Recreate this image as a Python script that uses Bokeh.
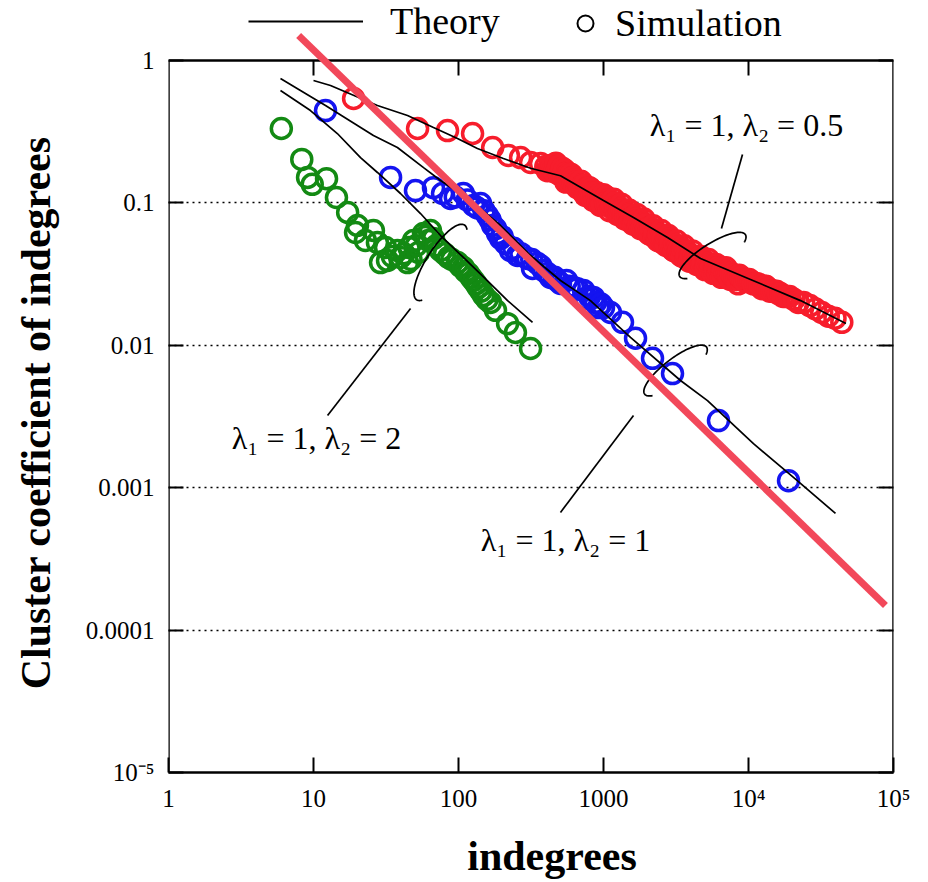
import numpy as np
from bokeh.plotting import figure
from bokeh.models import (ColumnDataSource, FixedTicker, CustomJSTickFormatter,
                          LogAxis, Legend, LegendItem, Range1d)
from bokeh.core.properties import value
from bokeh.embed import file_html
from bokeh.resources import INLINE

SERIF = "Liberation Serif"

# ---------------- ticks ----------------
x_ticks = [1, 10, 100, 1000, 1e4, 1e5]
x_tick_labels = ["1", "10", "100", "1000", "10⁴", "10⁵"]
y_ticks = [1e-5, 1e-4, 1e-3, 1e-2, 1e-1, 1]
y_tick_labels = ["10⁻⁵", "0.0001", "0.001", "0.01", "0.1", "1"]
grid_y = [1e-4, 1e-3, 1e-2, 1e-1]

# ---------------- simulation data ----------------
green_x = [6.0, 8.3, 9.1, 9.8, 12.3, 14.4, 17.2, 19.5, 20.1, 22.8, 25.9, 27.6, 29.0, 31.4,
           32.4, 35.0, 37.9, 39.8, 42.0, 44.5, 45.5, 47.0, 49.0, 51.0, 53.0, 57.4, 59.0,
           62.1, 64.1, 67.2, 70.0, 75.2, 80.0, 85.3, 90.0, 98.4, 103, 108, 112, 117, 122,
           127, 132, 137, 143, 149, 157, 166, 180, 218, 247, 314]
green_y = [0.333, 0.202, 0.151, 0.135, 0.148, 0.109, 0.0857, 0.0619, 0.0694, 0.0544, 0.064,
           0.0527, 0.0381, 0.0486, 0.0394, 0.042, 0.0463, 0.0414, 0.044, 0.0381, 0.0486,
           0.040, 0.0544, 0.050, 0.0449, 0.061, 0.058, 0.0544, 0.064, 0.0562, 0.050, 0.0463,
           0.044, 0.0414, 0.040, 0.0381, 0.036, 0.0352, 0.033, 0.0319, 0.030, 0.0285, 0.027,
           0.0255, 0.024, 0.0224, 0.021, 0.020, 0.0176, 0.0142, 0.0123, 0.0095]

blue_x = [12.1, 34.0, 50.5, 67.2, 77.6, 88.1, 95, 108, 115, 127, 135, 142, 150, 158, 165,
          172, 180, 186, 195, 200, 211, 228, 240, 255, 270, 299, 320, 324, 351, 370, 386,
          411, 431, 460, 480, 505, 556, 580, 621, 660, 728, 751, 800, 853, 880, 924, 960,
          1000, 1117, 1352, 1663, 2178, 2992, 6209, 18880]
blue_y = [0.445, 0.151, 0.122, 0.128, 0.1164, 0.1074, 0.110, 0.1164, 0.105, 0.0959, 0.092,
          0.099, 0.088, 0.0816, 0.076, 0.0694, 0.066, 0.061, 0.0562, 0.058, 0.0519, 0.0463,
          0.048, 0.0427, 0.044, 0.0407, 0.040, 0.0346, 0.0375, 0.036, 0.0335, 0.0319,
          0.0299, 0.030, 0.0285, 0.0272, 0.0285, 0.026, 0.0255, 0.025, 0.0243, 0.0213,
          0.022, 0.0217, 0.020, 0.0184, 0.0195, 0.0184, 0.017, 0.0145, 0.0112, 0.0081,
          0.00633, 0.00296, 0.00112]

red_x = [18.9, 52.2, 84.0, 125, 172, 221, 268, 314, 368,
         400, 410, 420, 430, 440, 450, 460, 470, 480, 490, 500, 510, 520, 530, 540, 550, 560,
         570, 580, 590, 600, 610, 620, 630, 640, 650, 660, 670, 680, 690, 700, 710, 720, 730,
         740, 750, 760, 770, 780, 790, 800, 810, 820, 830, 850, 860, 870, 880, 900, 910, 920,
         930, 950, 960, 970, 980, 1000, 1020, 1040, 1050, 1080, 1100, 1120, 1130, 1150, 1180,
         1200, 1210, 1220, 1250, 1270, 1280, 1300, 1330, 1350, 1360, 1380, 1400, 1430, 1440,
         1470, 1500, 1520, 1530, 1560, 1600, 1620, 1630, 1660, 1700, 1720, 1740, 1770, 1800,
         1830, 1850, 1880, 1900, 1950, 1970, 2000, 2050, 2080, 2100, 2130, 2200, 2220, 2240,
         2270, 2350, 2380, 2400, 2420, 2500, 2540, 2560, 2580, 2650, 2700, 2720, 2750, 2800,
         2880, 2900, 2930, 3000, 3050, 3080, 3120, 3200, 3250, 3280, 3330, 3400, 3470, 3500,
         3550, 3600, 3700, 3720, 3780, 3900, 3950, 3980, 4030, 4100, 4200, 4220, 4300, 4400,
         4480, 4500, 4580, 4700, 4780, 4800, 4880, 5000, 5100, 5120, 5200, 5300, 5450, 5480,
         5550, 5700, 5800, 5850, 5920, 6000, 6150, 6200, 6300, 6500, 6600, 6650, 6700, 6900,
         7000, 7150, 7300, 7500, 7600, 7800, 8100, 8300, 8500, 8650, 8900, 9200, 9500, 9800,
         10100, 10500, 10800, 11200, 11600, 12000, 12400, 12800, 13200, 13700, 14100, 14600,
         15100, 15600, 16100, 16700, 17300, 17900, 18500, 19200, 20600, 22000, 24000, 26500,
         29000, 32000, 35500, 39500, 44000]
red_y = [0.541, 0.333, 0.322, 0.307, 0.245, 0.215, 0.208, 0.192, 0.189,
         0.180, 0.168, 0.172, 0.183, 0.178, 0.170, 0.165, 0.190, 0.170, 0.180, 0.158, 0.165,
         0.175, 0.160, 0.170, 0.140, 0.150, 0.142, 0.160, 0.146, 0.158, 0.150, 0.138, 0.145,
         0.133, 0.140, 0.128, 0.137, 0.133, 0.128, 0.142, 0.131, 0.120, 0.125, 0.133, 0.113,
         0.117, 0.121, 0.127, 0.114, 0.128, 0.118, 0.124, 0.108, 0.104, 0.112, 0.118, 0.106,
         0.118, 0.110, 0.101, 0.113, 0.096, 0.104, 0.109, 0.098, 0.114, 0.106, 0.099, 0.110,
         0.098, 0.088, 0.101, 0.093, 0.097, 0.106, 0.100, 0.087, 0.091, 0.083, 0.094, 0.085,
         0.090, 0.098, 0.088, 0.080, 0.084, 0.077, 0.086, 0.079, 0.083, 0.089, 0.082, 0.074,
         0.078, 0.071, 0.080, 0.073, 0.077, 0.083, 0.075, 0.069, 0.072, 0.066, 0.074, 0.067,
         0.071, 0.077, 0.070, 0.064, 0.066, 0.061, 0.067, 0.060, 0.066, 0.069, 0.063, 0.058,
         0.061, 0.055, 0.058, 0.054, 0.060, 0.064, 0.059, 0.053, 0.056, 0.051, 0.055, 0.050,
         0.057, 0.059, 0.053, 0.049, 0.052, 0.047, 0.050, 0.046, 0.051, 0.054, 0.049, 0.045,
         0.047, 0.043, 0.046, 0.042, 0.047, 0.050, 0.045, 0.041, 0.043, 0.039, 0.042, 0.040,
         0.043, 0.046, 0.042, 0.039, 0.040, 0.037, 0.039, 0.037, 0.041, 0.042, 0.040, 0.036,
         0.038, 0.034, 0.037, 0.035, 0.038, 0.040, 0.037, 0.034, 0.036, 0.032, 0.034, 0.033,
         0.035, 0.037, 0.035, 0.032, 0.034, 0.030, 0.033, 0.031, 0.034, 0.033, 0.035, 0.032,
         0.031, 0.029, 0.032, 0.031, 0.030, 0.029, 0.027, 0.031, 0.030, 0.029, 0.028, 0.029,
         0.029, 0.028, 0.027, 0.027, 0.027, 0.026, 0.025, 0.026, 0.026, 0.025, 0.024, 0.024,
         0.024, 0.024, 0.023, 0.023, 0.022, 0.022, 0.022, 0.022, 0.021, 0.020, 0.020, 0.019,
         0.018, 0.017, 0.016, 0.0155, 0.0145]

# ---------------- theory curves ----------------
red_th_x = [10, 13.1, 27.6, 44.5, 67.2, 98.4, 135, 204, 314, 505, 1000, 1610, 2763, 4670,
            10320, 22850, 47000]
red_th_y = [0.724, 0.667, 0.483, 0.411, 0.338, 0.283, 0.241, 0.205, 0.175, 0.155, 0.104,
            0.0789, 0.0572, 0.0407, 0.029, 0.0206, 0.0142]
blue_th_x = [5.92, 8.13, 12.1, 25.9, 37.9, 57.4, 75.2, 121, 195, 314, 505, 813, 1535, 3396,
             5214, 10820, 20420, 39800]
blue_th_y = [0.748, 0.616, 0.483, 0.297, 0.245, 0.177, 0.1436, 0.104, 0.0694, 0.0427, 0.0285,
             0.0206, 0.01135, 0.00566, 0.00409, 0.00204, 0.00118, 0.00066]
green_th_x = [5.92, 9.53, 14.6, 21.1, 27.6, 39.8, 54.7, 75.2, 108, 158, 218, 324]
green_th_y = [0.616, 0.445, 0.307, 0.208, 0.1635, 0.1164, 0.0842, 0.059, 0.0414, 0.0285,
              0.0206, 0.0145]

# ---------------- power-law guide (slope -1) ----------------
fit_x = [7.9, 88000]
fit_y = [1.5, 1.49e-4]

# ---------------- annotations ----------------
label_text = ["λ₁ = 1, λ₂ = 0.5", "λ₁ = 1, λ₂ = 1", "λ₁ = 1, λ₂ = 2"]
label_x = [9680, 547, 10.5]
label_y = [0.35, 0.000426, 0.00222]
leader_x = [[6510, 9090], [1610, 505], [12.5, 46.7]]
leader_y = [[0.0661, 0.2187], [0.00321, 0.00067], [0.00321, 0.0181]]
ell_cx = [5650, 3140, 75.2]
ell_cy = [0.0427, 0.00665, 0.0382]
ell_a = [0.27, 0.27, 0.31]        # semi-axes in decades
ell_b = [0.083, 0.083, 0.097]
ell_angle = [33, 38, 58]          # degrees
ell_t0 = [150, 150, 160]
ell_t1 = [390, 390, 380]

# ---------------- figure ----------------
# the frame reaches above y = 1 so the legend and the guide line's top end are visible
Y_TOP = 10 ** 0.4213
p = figure(width=928, height=882, x_axis_type="log", y_axis_type="log",
           x_range=Range1d(1, 1e5), y_range=Range1d(1e-5, Y_TOP),
           output_backend="svg", toolbar_location=None,
           min_border_left=168, min_border_right=35, min_border_top=0,
           min_border_bottom=110)
p.background_fill_color = "white"
p.border_fill_color = "white"
p.outline_line_color = None

xa = p.below[0]
ya = p.left[0]
right = LogAxis()
p.add_layout(right, "right")


def fmt(vals, labs):
    return CustomJSTickFormatter(args=dict(vals=vals, labs=labs), code="""
        const lt = Math.log10(tick);
        let best = 0, bd = 1e9;
        for (let i = 0; i < vals.length; i++) {
            const d = Math.abs(lt - Math.log10(vals[i]));
            if (d < bd) { bd = d; best = i; }
        }
        return labs[best];
    """)


for ax, ticks in [(xa, x_ticks), (ya, y_ticks), (right, y_ticks)]:
    ax.ticker = FixedTicker(ticks=ticks, minor_ticks=[])
    ax.major_tick_in = 15
    ax.major_tick_out = 0
    ax.major_tick_line_width = 2
    ax.major_tick_line_color = "black"
    ax.minor_tick_line_color = None

xa.axis_line_color = "black"
xa.axis_line_width = 2.5
ya.axis_line_color = None
right.axis_line_color = None
right.formatter = CustomJSTickFormatter(code="return '';")
right.major_label_text_font_size = "1px"
right.major_label_standoff = 0

xa.formatter = fmt(x_ticks, x_tick_labels)
xa.major_label_text_font = SERIF
xa.major_label_text_font_size = "25px"
xa.major_label_text_color = "black"
xa.major_label_standoff = 12
xa.axis_label = "\u00a0\u00a0\u00a0\u00a0indegrees"
xa.axis_label_text_font = SERIF
xa.axis_label_text_font_style = "bold"
xa.axis_label_text_font_size = "42px"
xa.axis_label_text_color = "black"
xa.axis_label_standoff = 18

ya.formatter = fmt(y_ticks, y_tick_labels)
ya.major_label_text_font = SERIF
ya.major_label_text_font_size = "25px"
ya.major_label_text_color = "black"
ya.major_label_standoff = 14
ya.axis_label = "Cluster coefficient of indegrees\u00a0\u00a0\u00a0\u00a0\u00a0"
ya.axis_label_text_font = SERIF
ya.axis_label_text_font_style = "bold"
ya.axis_label_text_font_size = "42px"
ya.axis_label_text_color = "black"
ya.axis_label_standoff = 24

p.xgrid.visible = False
p.ygrid.ticker = FixedTicker(ticks=grid_y)
p.ygrid.grid_line_color = "black"
p.ygrid.grid_line_dash = "2 4"
p.ygrid.grid_line_width = 1.5

# ---------------- plot box (left, right, top) and inward top ticks ----------------
p.segment(x0=[x_ticks[0], x_ticks[-1], x_ticks[0]], y0=[y_ticks[0], y_ticks[0], y_ticks[-1]],
          x1=[x_ticks[0], x_ticks[-1], x_ticks[-1]], y1=[y_ticks[-1], y_ticks[-1], y_ticks[-1]],
          line_color="black", line_width=2.5)
p.ray(x=x_ticks[1:-1], y=[y_ticks[-1]] * (len(x_ticks) - 2), length=15, length_units="screen",
      angle=-np.pi / 2, line_color="black", line_width=2)

# ---------------- simulation circles ----------------
circ = dict(marker="circle", size=20, fill_color=None, line_width=3.5)
p.scatter(green_x, green_y, line_color="#138a13", **circ)
p.scatter(blue_x, blue_y, line_color="#1414f0", **circ)
p.scatter(red_x, red_y, line_color="#f71d2c", **circ)

# ---------------- theory lines ----------------
for tx, ty in [(red_th_x, red_th_y), (blue_th_x, blue_th_y), (green_th_x, green_th_y)]:
    p.line(tx, ty, line_color="black", line_width=1.7)

# ---------------- brackets (open ellipses) ----------------
for cx, cy, a, b, ang, t0, t1 in zip(ell_cx, ell_cy, ell_a, ell_b, ell_angle, ell_t0, ell_t1):
    t = np.radians(np.linspace(t0, t1, 80))
    th = np.radians(ang)
    ux, uy = np.cos(th), np.sin(th)
    vx, vy = np.sin(th), -np.cos(th)
    lx = np.log10(cx) + a * np.cos(t) * ux + b * np.sin(t) * vx
    ly = np.log10(cy) + a * np.cos(t) * uy + b * np.sin(t) * vy
    p.line(10 ** lx, 10 ** ly, line_color="black", line_width=1.7)

p.multi_line(leader_x, leader_y, line_color="black", line_width=1.7)

src = ColumnDataSource(dict(x=label_x, y=label_y, t=label_text))
p.text(x="x", y="y", text="t", source=src, text_font=value(SERIF),
       text_font_size="32px", text_align="center", text_baseline="middle",
       text_color="black")

# ---------------- slope -1 guide ----------------
p.line(fit_x, fit_y, line_color="#f2485a", line_width=7)

# ---------------- legend (sample glyphs sit outside the visible x range) ----------------
th_dummy = p.line(x=[1e-3, 2e-3], y=[1e-3, 1e-3], line_color="black", line_width=2.2)
sim_dummy = p.scatter(x=[1e-3], y=[1e-3], marker="circle", size=16, fill_color=None,
                      line_color="black", line_width=2)

common = dict(orientation="horizontal", padding=0, margin=0, spacing=0,
              border_line_color=None, background_fill_alpha=0,
              label_text_font=SERIF, label_text_font_size="38px",
              label_text_color="black")
leg1 = Legend(items=[LegendItem(label="Theory", renderers=[th_dummy])],
              location=(80, 729), glyph_width=115, glyph_height=36, label_height=36,
              label_standoff=27, **common)
leg2 = Legend(items=[LegendItem(label="Simulation", renderers=[sim_dummy])],
              location=(397, 727), glyph_width=40, glyph_height=40, label_height=40,
              label_standoff=10, **common)
p.add_layout(leg1, "center")
p.add_layout(leg2, "center")

open("out.html", "w").write(file_html(p, INLINE))
